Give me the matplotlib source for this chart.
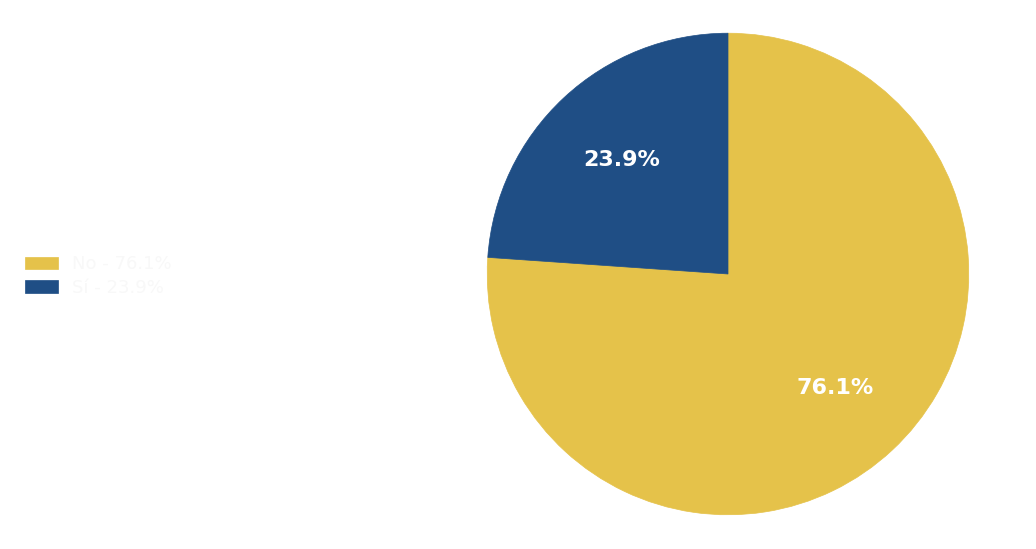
import numpy as np
import matplotlib.pyplot as plt

labels = ["No", "Sí"]
values = [76.1, 23.9]
colors = ["#E5C24A", "#1F4E85"]

fig = plt.figure(figsize=(10.36, 5.49), dpi=100)
ax = fig.add_axes([486/1036, 1 - 516/549, 484/1036, 484/549])

wedges, texts, autotexts = ax.pie(values, colors=colors, startangle=90, counterclock=False,
                                  autopct="%.1f%%", pctdistance=0.65,
                                  wedgeprops=dict(linewidth=0.5, edgecolor="#E5C24A"),
                                  textprops=dict(color="white", fontsize=16, fontweight="bold"))
wedges[1].set_edgecolor(colors[1])
ax.set_xlim(-1.005, 1.005)
ax.set_ylim(-1.005, 1.005)
ax.set_aspect("equal")

leg_labels = [f"{l} - {v}%" for l, v in zip(labels, values)]
leg = fig.legend(wedges, leg_labels, loc="center left", bbox_to_anchor=(0.008, 0.497),
                 frameon=False, fontsize=13, handlelength=1.85, handleheight=0.7,
                 handletextpad=0.8, labelspacing=0.33)
for t in leg.get_texts():
    t.set_color("#f8f8f8")

fig.savefig("out.png", dpi=100)
